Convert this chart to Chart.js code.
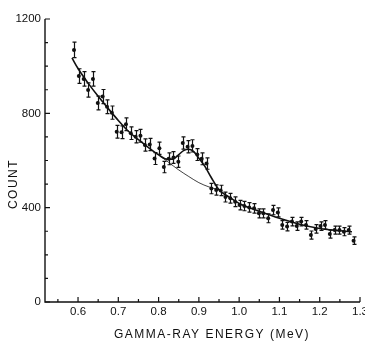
<!DOCTYPE html>
<html>
<head>
<meta charset="utf-8">
<script src="https://cdn.jsdelivr.net/npm/chart.js@4"></script>
<style>
  body { margin: 0; background: #fff; }
</style>
</head>
<body>
<canvas id="myChart" width="365" height="341"></canvas>
<script>
const energy = [0.590, 0.602, 0.614, 0.625, 0.637, 0.649, 0.661, 0.672, 0.684, 0.696,
  0.708, 0.719, 0.731, 0.743, 0.755, 0.766, 0.778, 0.790, 0.802, 0.813,
  0.825, 0.837, 0.849, 0.860, 0.872, 0.884, 0.896, 0.907, 0.919, 0.931,
  0.943, 0.954, 0.966, 0.978, 0.990, 1.001, 1.013, 1.025, 1.037, 1.049,
  1.060, 1.072, 1.084, 1.096, 1.107, 1.119, 1.131, 1.143, 1.154, 1.166,
  1.178, 1.190, 1.202, 1.213, 1.225, 1.237, 1.249, 1.260, 1.272, 1.284];
const counts = [1069, 958, 946, 899, 946, 844, 871, 828, 803, 722,
  720, 754, 716, 701, 705, 666, 668, 608, 652, 572,
  607, 613, 595, 674, 658, 662, 625, 607, 587, 481,
  475, 473, 445, 440, 425, 411, 407, 401, 397, 376,
  376, 355, 390, 380, 327, 320, 341, 322, 341, 327,
  284, 310, 322, 327, 288, 305, 305, 298, 305, 260];
const errors = [33, 31, 31, 30, 31, 29, 30, 29, 28, 27,
  27, 27, 27, 26, 27, 26, 26, 25, 26, 24,
  25, 25, 24, 26, 26, 26, 25, 25, 24, 22,
  22, 22, 21, 21, 21, 20, 20, 20, 20, 19,
  19, 19, 20, 19, 18, 18, 18, 18, 18, 18,
  17, 18, 18, 18, 17, 17, 17, 17, 17, 16];

// fitted curve with the peak
const fitEnergy = [0.585, 0.60, 0.625, 0.65, 0.675, 0.70, 0.725, 0.75, 0.775, 0.80,
  0.82, 0.835, 0.85, 0.862, 0.874, 0.886, 0.90, 0.915, 0.93, 0.95,
  0.975, 1.0, 1.05, 1.1, 1.15, 1.2, 1.25, 1.28];
const fitCount = [1035, 990, 928, 872, 820, 770, 724, 688, 655, 624,
  606, 606, 625, 642, 648, 640, 610, 575, 530, 476,
  445, 418, 385, 355, 330, 312, 302, 298];

// background under the peak
const bgEnergy = [0.80, 0.825, 0.85, 0.875, 0.90, 0.925, 0.95];
const bgCount = [624, 592, 560, 532, 506, 488, 476];

const xTicks = [0.6, 0.7, 0.8, 0.9, 1.0, 1.1, 1.2, 1.3];
const xTickLabels = ['0.6', '0.7', '0.8', '0.9', '1.0', '1.1', '1.2', '1.3'];
const xMinor = [0.55, 0.65, 0.75, 0.85, 0.95, 1.05, 1.15, 1.25];
const yTicks = [0, 400, 800, 1200];
const yTickLabels = ['0', '400', '800', '1200'];
const yMinor = [100, 200, 300, 500, 600, 700, 900, 1000, 1100];

const INK = '#111';
const FONT = '"Liberation Sans", Arial, sans-serif';

const toXY = (xs, ys) => xs.map((v, i) => ({ x: v, y: ys[i] }));

// error bars
const errorBars = {
    id: 'errorBars',
    afterDatasetsDraw(chart) {
        const { ctx, scales: { x, y } } = chart;
        ctx.save();
        ctx.strokeStyle = INK;
        ctx.lineWidth = 1.2;
        energy.forEach((e, i) => {
            const px = Math.round(x.getPixelForValue(e)) + 0.5;
            const top = y.getPixelForValue(counts[i] + errors[i]);
            const bot = y.getPixelForValue(counts[i] - errors[i]);
            ctx.beginPath();
            ctx.moveTo(px, top); ctx.lineTo(px, bot);
            ctx.moveTo(px - 2, top); ctx.lineTo(px + 2, top);
            ctx.moveTo(px - 2, bot); ctx.lineTo(px + 2, bot);
            ctx.stroke();
        });
        ctx.restore();
    }
};

// axis lines, inward ticks, labels and titles
const frame = {
    id: 'frame',
    afterDraw(chart) {
        const { ctx, chartArea: a, scales: { x, y } } = chart;
        ctx.save();
        ctx.strokeStyle = INK;
        ctx.fillStyle = INK;
        ctx.lineWidth = 1.4;
        ctx.beginPath();
        ctx.moveTo(a.left, a.top);
        ctx.lineTo(a.left, a.bottom);
        ctx.lineTo(a.right, a.bottom);
        ctx.stroke();

        ctx.lineWidth = 1.2;
        ctx.beginPath();
        xTicks.forEach(v => { const p = x.getPixelForValue(v); ctx.moveTo(p, a.bottom); ctx.lineTo(p, a.bottom - 5); });
        xMinor.forEach(v => { const p = x.getPixelForValue(v); ctx.moveTo(p, a.bottom); ctx.lineTo(p, a.bottom - 3); });
        yTicks.forEach(v => { const p = y.getPixelForValue(v); ctx.moveTo(a.left, p); ctx.lineTo(a.left + 5, p); });
        yMinor.forEach(v => { const p = y.getPixelForValue(v); ctx.moveTo(a.left, p); ctx.lineTo(a.left + 3, p); });
        ctx.stroke();

        ctx.font = '11.5px ' + FONT;
        ctx.textAlign = 'center';
        ctx.textBaseline = 'middle';
        xTicks.forEach((v, i) => ctx.fillText(xTickLabels[i], x.getPixelForValue(v), a.bottom + 10));
        ctx.textAlign = 'right';
        yTicks.forEach((v, i) => ctx.fillText(yTickLabels[i], a.left - 4, y.getPixelForValue(v)));

        ctx.font = '12px ' + FONT;
        ctx.letterSpacing = '1.5px';
        ctx.textAlign = 'center';
        ctx.fillText('GAMMA-RAY ENERGY (MeV)', 212, 335);
        ctx.translate(14, 184);
        ctx.rotate(-Math.PI / 2);
        ctx.fillText('COUNT', 0, 0);
        ctx.restore();
    }
};

new Chart(document.getElementById('myChart').getContext('2d'), {
    type: 'scatter',
    data: {
        datasets: [
            {
                label: 'data',
                data: toXY(energy, counts),
                pointRadius: 2,
                pointBackgroundColor: INK,
                pointBorderWidth: 0,
                showLine: false
            },
            {
                label: 'fit',
                type: 'line',
                data: toXY(fitEnergy, fitCount),
                borderColor: INK,
                borderWidth: 1.6,
                pointRadius: 0,
                cubicInterpolationMode: 'monotone',
                fill: false
            },
            {
                label: 'background',
                type: 'line',
                data: toXY(bgEnergy, bgCount),
                borderColor: INK,
                borderWidth: 0.8,
                pointRadius: 0,
                cubicInterpolationMode: 'monotone',
                fill: false
            }
        ]
    },
    options: {
        responsive: false,
        animation: false,
        layout: { padding: { left: 45, top: 19, right: 5, bottom: 39 } },
        plugins: { legend: { display: false }, tooltip: { enabled: false } },
        scales: {
            x: { type: 'linear', min: 0.518, max: 1.3, display: false },
            y: { type: 'linear', min: 0, max: 1200, display: false }
        }
    },
    plugins: [errorBars, frame]
});
</script>
</body>
</html>
